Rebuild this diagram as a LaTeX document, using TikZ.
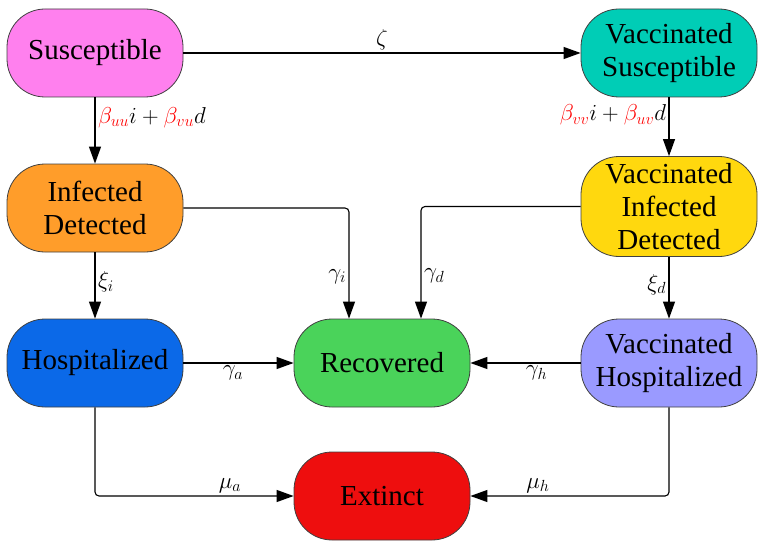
\documentclass[tikz,border=0pt]{standalone}
\usepackage{fix-cm}
\usepackage{fontspec}
\setmainfont{Liberation Serif}
\usetikzlibrary{arrows.meta,calc}
\definecolor{cS}{HTML}{FF80EE}
\definecolor{cVS}{HTML}{00CDB6}
\definecolor{cID}{HTML}{FF9D2A}
\definecolor{cVID}{HTML}{FFD80E}
\definecolor{cH}{HTML}{0B69E8}
\definecolor{cR}{HTML}{4AD35A}
\definecolor{cVH}{HTML}{9A9AFF}
\definecolor{cE}{HTML}{EE0E0E}
\definecolor{bred}{HTML}{FF0000}
\begin{document}
\begin{tikzpicture}[x=1pt,y=-1pt,
  box/.style={draw=black!75, line width=0.8pt, rounded corners=38pt,
    minimum width=176pt, minimum height=88pt, align=center, inner sep=0pt,
    font=\fontsize{29}{33}\selectfont},
  arr/.style={-{Triangle[length=17pt,width=12pt]}, line width=1.1pt, rounded corners=4pt},
  lbl/.style={font=\fontsize{23}{26}\selectfont, inner sep=2.5pt}]
\useasboundingbox (0,0) rectangle (767,548);
\node[box, fill=cS]   (S)   at (95,53)    {Susceptible};
\node[box, fill=cVS]  (VS)  at (669,53)   {Vaccinated\\Susceptible};
\node[box, fill=cID]  (ID)  at (95,208)   {Infected\\Detected};
\node[box, fill=cVID, minimum height=100pt] (VID) at (669,206.5) {Vaccinated\\Infected\\Detected};
\node[box, fill=cH]   (H)   at (95,363)   {Hospitalized};
\node[box, fill=cR]   (R)   at (382,363)  {Recovered};
\node[box, fill=cVH]  (VH)  at (669,363)  {Vaccinated\\Hospitalized};
\node[box, fill=cE]   (E)   at (382,496)  {Extinct};

\draw[arr] (S) -- node[lbl, above] {$\zeta$} (VS);
\draw[arr] (S) -- node[lbl, right, pos=0.3] {$\color{bred}\beta_{uu}\color{black}i+\color{bred}\beta_{vu}\color{black}d$} (ID);
\draw[arr] (VS) -- node[lbl, left, pos=0.3] {$\color{bred}\beta_{vv}\color{black}i+\color{bred}\beta_{uv}\color{black}d$} (VID);
\draw[arr] (ID.east) -| node[lbl, left, pos=0.81] {$\gamma_i$} ([xshift=-33pt]R.north);
\draw[arr] (VID.west) -| node[lbl, right, pos=0.81] {$\gamma_d$} ([xshift=39pt]R.north);
\draw[arr] (ID) -- node[lbl, right, pos=0.45] {$\xi_i$} (H);
\draw[arr] (VID) -- node[lbl, left, pos=0.45] {$\xi_d$} (VH);
\draw[arr] (H) -- node[lbl, below, pos=0.45] {$\gamma_a$} (R);
\draw[arr] (VH) -- node[lbl, below, pos=0.4] {$\gamma_h$} (R);
\draw[arr] (H.south) |- node[lbl, above, pos=0.84] {$\mu_a$} (E.west);
\draw[arr] (VH.south) |- node[lbl, above, pos=0.83] {$\mu_h$} (E.east);
\end{tikzpicture}
\end{document}
